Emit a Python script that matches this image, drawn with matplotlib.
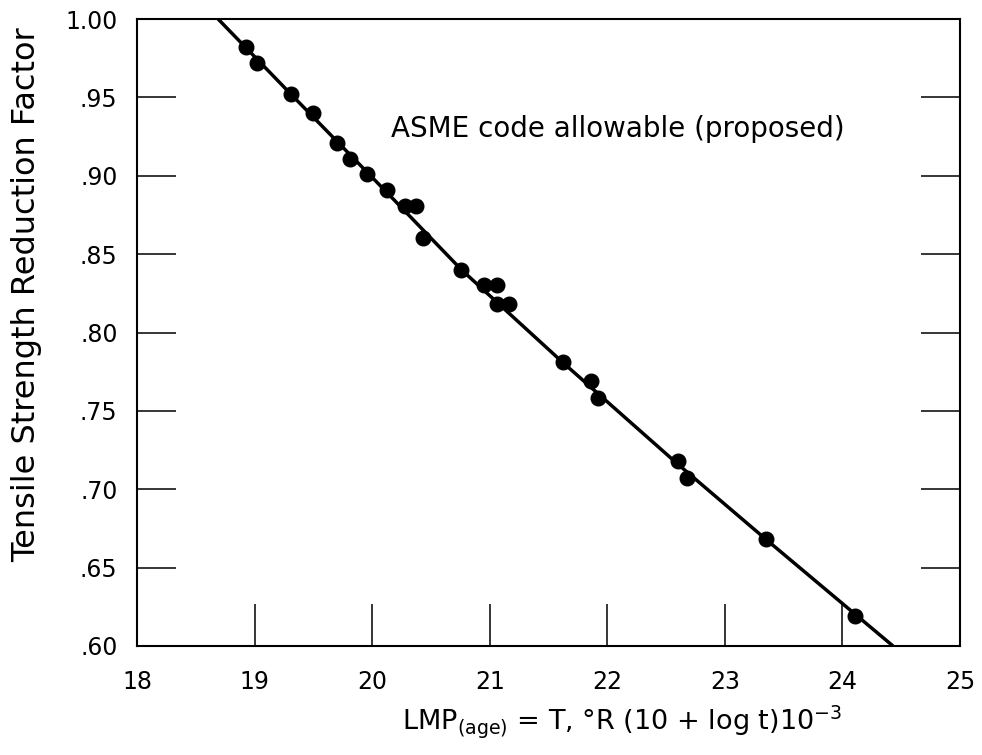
import matplotlib
matplotlib.use("Agg")
import matplotlib.pyplot as plt
from matplotlib.ticker import FuncFormatter

# Data points
lmp = [18.93, 19.02, 19.31, 19.50, 19.70, 19.81, 19.96, 20.13, 20.28, 20.37,
       20.43, 20.76, 20.95, 21.06, 21.06, 21.16, 21.62, 21.86, 21.92, 22.60,
       22.68, 23.35, 24.11]
factor = [0.982, 0.972, 0.952, 0.940, 0.921, 0.911, 0.901, 0.891, 0.881, 0.881,
          0.860, 0.840, 0.830, 0.830, 0.818, 0.818, 0.781, 0.769, 0.758, 0.718,
          0.707, 0.668, 0.619]

# ASME code allowable curve
curve_x = [18.69, 19.31, 20.13, 20.76, 21.62, 22.60, 23.35, 24.43]
curve_y = [1.000, 0.952, 0.889, 0.840, 0.781, 0.716, 0.668, 0.600]

x_ticks = [18, 19, 20, 21, 22, 23, 24, 25]
y_ticks = [0.60, 0.65, 0.70, 0.75, 0.80, 0.85, 0.90, 0.95, 1.00]

fig = plt.figure(figsize=(9.82, 7.55), dpi=100)
ax = fig.add_axes([0.1395, 0.1444, 0.8381, 0.8304])

ax.plot(curve_x, curve_y, color="black", lw=2.5, solid_capstyle="butt", zorder=2)
ax.plot(lmp, factor, "o", color="black", ms=10.5, zorder=3)

ax.set_xlim(18, 25)
ax.set_ylim(0.60, 1.00)
ax.set_xticks(x_ticks)
ax.set_yticks(y_ticks)

def yfmt(v, pos):
    s = f"{v:.2f}"
    return s[1:] if s.startswith("0") else s

ax.yaxis.set_major_formatter(FuncFormatter(yfmt))

ax.tick_params(axis="y", which="major", direction="in", length=28, width=1.1,
               left=True, right=True, labelsize=17, pad=14)
ax.tick_params(axis="x", which="major", direction="in", length=30, width=1.1,
               bottom=True, top=False, labelsize=17, pad=17)

for sp in ax.spines.values():
    sp.set_linewidth(1.5)

ax.set_ylabel("Tensile Strength Reduction Factor", fontsize=23, labelpad=17, y=0.56)
ax.set_xlabel(r"LMP$_{\mathregular{(age)}}$ = T, °R (10 + log t)10$^{\mathregular{-3}}$",
              fontsize=19.5, labelpad=7, x=0.589)

ax.text(20.16, 0.930, "ASME code allowable (proposed)", fontsize=20,
        ha="left", va="center")

fig.savefig("out.png", dpi=100)
